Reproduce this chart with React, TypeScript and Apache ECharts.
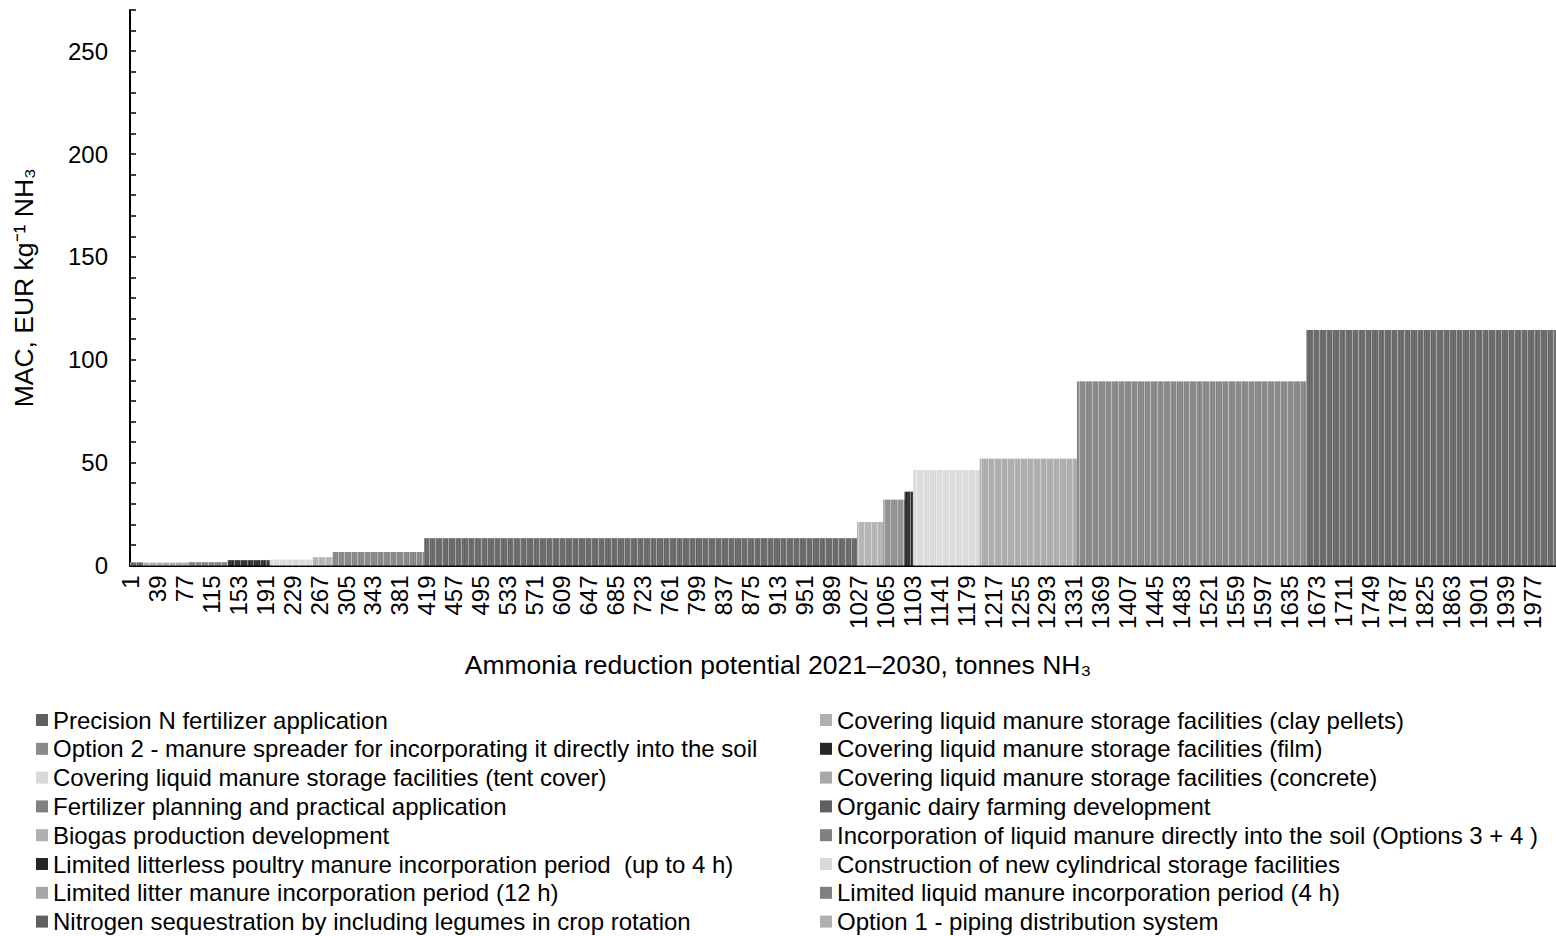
import React, { useEffect, useRef } from "react";
import * as echarts from "echarts";

// Measures in order along the MAC curve (cheapest first)
const curveMeasures = [
  "Nitrogen sequestration by including legumes in crop rotation",
  "Limited litter manure incorporation period (12 h)",
  "Limited liquid manure incorporation period (4 h)",
  "Limited litterless poultry manure incorporation period  (up to 4 h)",
  "Construction of new cylindrical storage facilities",
  "Option 1 - piping distribution system",
  "Fertilizer planning and practical application",
  "Precision N fertilizer application",
  "Covering liquid manure storage facilities (clay pellets)",
  "Option 2 - manure spreader for incorporating it directly into the soil",
  "Covering liquid manure storage facilities (film)",
  "Covering liquid manure storage facilities (tent cover)",
  "Covering liquid manure storage facilities (concrete)",
  "Incorporation of liquid manure directly into the soil (Options 3 + 4 )",
  "Organic dairy farming development",
];
// Reduction potential of each measure, tonnes NH3
const potentials = [18, 64, 56, 59, 61, 28, 129, 610, 37, 30, 12, 94, 137, 323, 352];
// Marginal abatement cost, EUR per kg NH3
const macValues = [1.5, 1.3, 1.6, 2.5, 2.8, 4.0, 6.6, 13.2, 21.2, 31.9, 35.9, 46.4, 51.9, 89.4, 114.5];

// Legend columns (series order)
const legendLeft = [
  "Precision N fertilizer application",
  "Option 2 - manure spreader for incorporating it directly into the soil",
  "Covering liquid manure storage facilities (tent cover)",
  "Fertilizer planning and practical application",
  "Biogas production development",
  "Limited litterless poultry manure incorporation period  (up to 4 h)",
  "Limited litter manure incorporation period (12 h)",
  "Nitrogen sequestration by including legumes in crop rotation",
];
const legendRight = [
  "Covering liquid manure storage facilities (clay pellets)",
  "Covering liquid manure storage facilities (film)",
  "Covering liquid manure storage facilities (concrete)",
  "Organic dairy farming development",
  "Incorporation of liquid manure directly into the soil (Options 3 + 4 )",
  "Construction of new cylindrical storage facilities",
  "Limited liquid manure incorporation period (4 h)",
  "Option 1 - piping distribution system",
];

const seriesColors: Record<string, string> = {
  "Precision N fertilizer application": "#606060",
  "Option 2 - manure spreader for incorporating it directly into the soil": "#8a8a8a",
  "Covering liquid manure storage facilities (tent cover)": "#d9d9d9",
  "Fertilizer planning and practical application": "#808080",
  "Biogas production development": "#b0b0b0",
  "Limited litterless poultry manure incorporation period  (up to 4 h)": "#262626",
  "Limited litter manure incorporation period (12 h)": "#a6a6a6",
  "Nitrogen sequestration by including legumes in crop rotation": "#606060",
  "Covering liquid manure storage facilities (clay pellets)": "#b0b0b0",
  "Covering liquid manure storage facilities (film)": "#262626",
  "Covering liquid manure storage facilities (concrete)": "#a8a8a8",
  "Organic dairy farming development": "#606060",
  "Incorporation of liquid manure directly into the soil (Options 3 + 4 )": "#808080",
  "Construction of new cylindrical storage facilities": "#d9d9d9",
  "Limited liquid manure incorporation period (4 h)": "#7f7f7f",
  "Option 1 - piping distribution system": "#b0b0b0",
};

const yLabelValues = [0, 50, 100, 150, 200, 250];

const FONT = "'Liberation Sans', Arial, sans-serif";

export default function App() {
  const ref = useRef<HTMLDivElement>(null);
  useEffect(() => {
    if (!ref.current) return;
    const chart = echarts.init(ref.current, undefined, { renderer: "svg" });

    const total = potentials.reduce((a, b) => a + b, 0);
    const categories = Array.from({ length: total }, (_, i) => String(i + 1));
    const starts: number[] = [];
    let acc = 0;
    potentials.forEach((p) => {
      starts.push(acc);
      acc += p;
    });

    const seriesOrder: string[] = [];
    for (let i = 0; i < legendLeft.length; i++) {
      seriesOrder.push(legendLeft[i]);
      seriesOrder.push(legendRight[i]);
    }

    const series = seriesOrder.map((name) => {
      const data: (number | string)[] = new Array(total).fill("-");
      const idx = curveMeasures.indexOf(name);
      if (idx >= 0) {
        for (let k = starts[idx]; k < starts[idx] + potentials[idx]; k++) data[k] = macValues[idx];
      }
      return {
        name,
        type: "bar",
        data,
        barGap: "-100%",
        barCategoryGap: "0%",
        itemStyle: {
          color: seriesColors[name],
          decal: {
            symbol: "rect",
            symbolSize: 1,
            color: "rgba(255,255,255,0.5)",
            dashArrayX: [1, 5, 1, 6],
            dashArrayY: [4, 0],
            rotation: 0,
          },
        },
      };
    });

    const legendCommon = {
      orient: "vertical",
      top: 708,
      padding: 0,
      itemWidth: 12,
      itemHeight: 12,
      itemGap: 4.8,
      icon: "rect",
      selectedMode: false,
      itemStyle: { decal: "none" },
      textStyle: { fontSize: 24, lineHeight: 24, color: "#000", fontFamily: FONT },
    };

    chart.setOption({
      animation: false,
      backgroundColor: "#fff",
      title: {
        text: "Ammonia reduction potential 2021–2030, tonnes NH₃",
        left: "center",
        top: 650,
        padding: 0,
        textStyle: { fontSize: 26.5, fontWeight: "normal", color: "#000", fontFamily: FONT, lineHeight: 30 },
      },
      legend: [
        { ...legendCommon, left: 36, data: legendLeft },
        { ...legendCommon, left: 820, data: legendRight },
      ],
      grid: { left: 130, right: 0, top: 10, bottom: 370.5, containLabel: false },
      xAxis: {
        type: "category",
        data: categories,
        axisLine: { show: true, lineStyle: { color: "#000", width: 2 } },
        axisTick: { show: false },
        axisLabel: {
          interval: 37,
          rotate: 90,
          fontSize: 24,
          color: "#000",
          fontFamily: FONT,
          margin: 10,
        },
        splitLine: { show: false },
      },
      yAxis: {
        type: "value",
        min: 0,
        max: 270,
        interval: 10,
        name: "MAC, EUR kg⁻¹ NH₃",
        nameLocation: "middle",
        nameGap: 93,
        nameTextStyle: { fontSize: 26.5, color: "#000", fontFamily: FONT },
        axisLine: { show: true, lineStyle: { color: "#000", width: 2 } },
        axisTick: { show: true, inside: true, length: 6, lineStyle: { color: "#000", width: 1.5 } },
        splitLine: { show: false },
        axisLabel: {
          formatter: (v: number) => (yLabelValues.includes(v) ? String(v) : ""),
          fontSize: 24,
          color: "#000",
          fontFamily: FONT,
          margin: 22,
        },
      },
      series,
    });
    return () => chart.dispose();
  }, []);
  return (
    <div
      ref={ref}
      style={{ position: "fixed", left: 0, top: 0, width: 1556, height: 936, background: "#fff" }}
    />
  );
}
